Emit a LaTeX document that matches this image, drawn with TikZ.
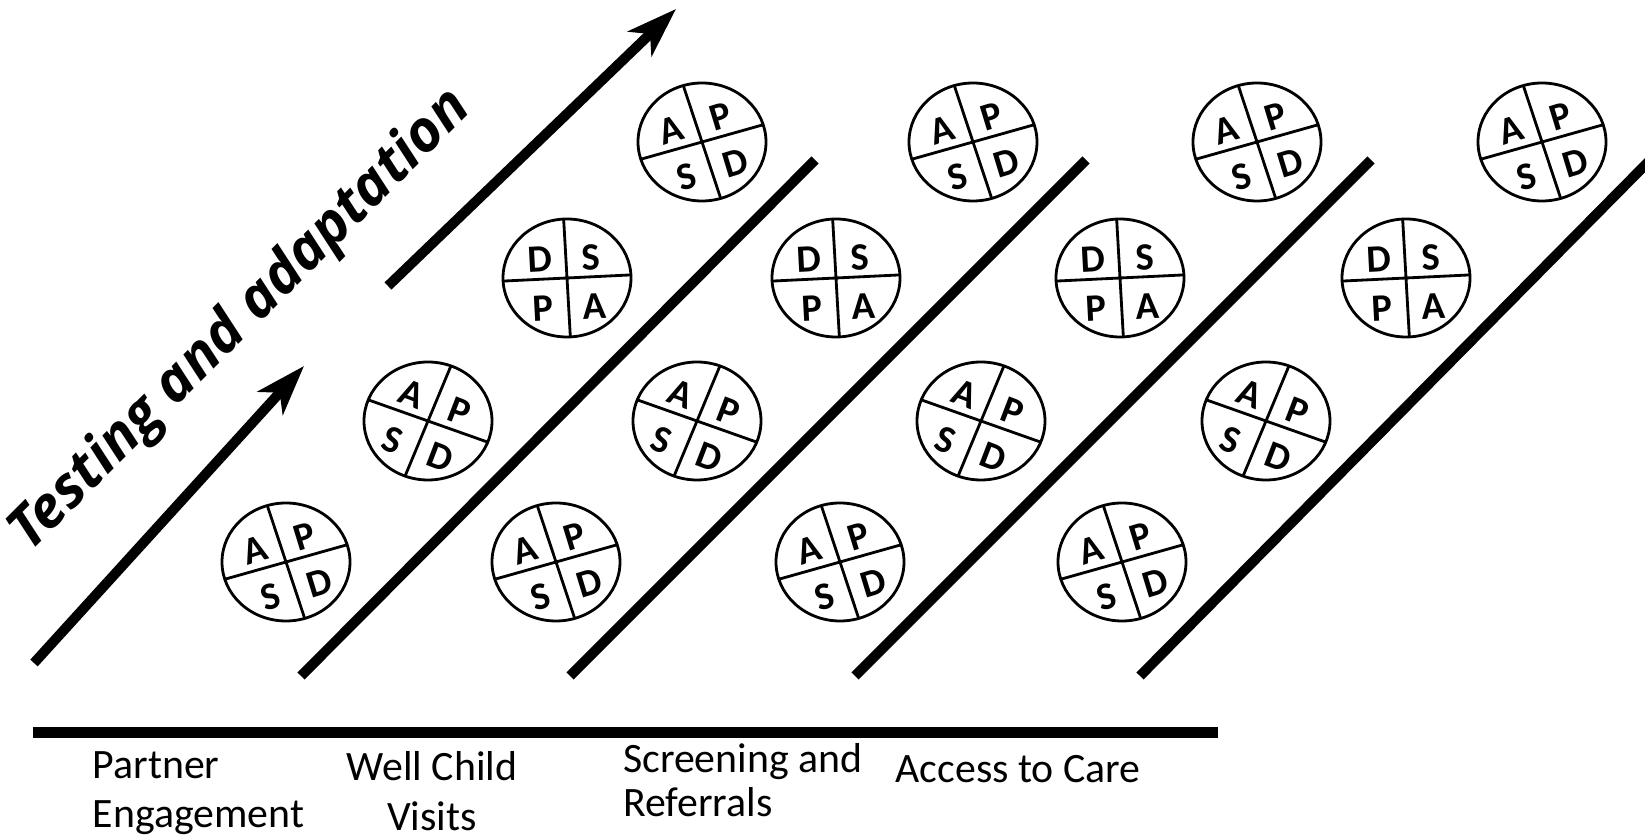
\documentclass[tikz,border=0pt]{standalone}
\usepackage{fontspec}
\setmainfont{Carlito}
\newfontfamily\titlefont{Open Sans}
\usetikzlibrary{arrows.meta}
\tikzset{
  bar/.style={line width=2.85pt},
  rise/.style={bar, -{Stealth[length=5mm, width=3.4mm, inset=1.4mm]}},
  rim/.style={line width=0.8pt},
  ring/.style={xscale=0.64, yscale=0.59},
  letter/.style={inner sep=0pt, font=\bfseries\fontsize{11}{13}\selectfont},
  stage/.style={inner sep=0pt, anchor=base west, align=left, font=\fontsize{11.9}{14.2}\selectfont},
  pics/pdsa/.style n args={5}{code={
    \draw[rim] (0,0) circle (1);
    \draw[rim] (#1:1) -- ({#1+180}:1) ({#1+90}:1) -- ({#1+270}:1);
    \path[rotate=#1] (-0.4,0.33) node[letter, rotate=#1] (-ul) {#2}
      (0.4,0.33) node[letter, rotate=#1] (-ur) {#3}
      (-0.4,-0.5) node[letter, rotate=#1] (-ll) {#4}
      (0.4,-0.5) node[letter, rotate=#1] (-lr) {#5};
  }},
}
\begin{document}
\begin{tikzpicture}
\useasboundingbox (0,0) rectangle (16.45,-8.38);
% arrows and dividers
\coordinate (a1) at (0.34,-6.63);
\coordinate (a2) at (3.04,-3.66);
\coordinate (a3) at (3.88,-2.86);
\coordinate (a4) at (6.76,-0.09);
\coordinate (d1) at (3.01,-6.76);
\coordinate (d2) at (8.15,-1.60);
\coordinate (d3) at (5.70,-6.76);
\coordinate (d4) at (10.86,-1.60);
\coordinate (d5) at (8.55,-6.76);
\coordinate (d6) at (13.71,-1.60);
\coordinate (d7) at (11.40,-6.76);
\coordinate (d8) at (16.60,-1.50);
\coordinate (h1) at (0.33,-7.325);
\coordinate (h2) at (12.18,-7.325);
\draw[rise] (a1) -- (a2);
\draw[rise] (a3) -- (a4);
\draw[bar] (d1) -- (d2);
\draw[bar] (d3) -- (d4);
\draw[bar] (d5) -- (d6);
\draw[bar] (d7) -- (d8);
\draw[bar] (h1) -- (h2);
\node[rotate=45, font=\titlefont\bfseries\itshape\fontsize{16.3}{19}\selectfont] (title) at (2.41,-3.21) {Testing and adaptation};
% cycles
\pic[ring] (c11) at (2.86,-5.62) {pdsa={17}{A}{P}{S}{D}};
\pic[ring] (c12) at (4.28,-4.21) {pdsa={-21}{A}{P}{S}{D}};
\pic[ring] (c13) at (5.67,-2.78) {pdsa={3}{D}{S}{P}{A}};
\pic[ring] (c14) at (7.02,-1.42) {pdsa={17}{A}{P}{S}{D}};
\pic[ring] (c21) at (5.56,-5.62) {pdsa={17}{A}{P}{S}{D}};
\pic[ring] (c22) at (6.97,-4.21) {pdsa={-21}{A}{P}{S}{D}};
\pic[ring] (c23) at (8.36,-2.78) {pdsa={3}{D}{S}{P}{A}};
\pic[ring] (c24) at (9.73,-1.42) {pdsa={17}{A}{P}{S}{D}};
\pic[ring] (c31) at (8.40,-5.62) {pdsa={17}{A}{P}{S}{D}};
\pic[ring] (c32) at (9.81,-4.21) {pdsa={-21}{A}{P}{S}{D}};
\pic[ring] (c33) at (11.20,-2.78) {pdsa={3}{D}{S}{P}{A}};
\pic[ring] (c34) at (12.57,-1.42) {pdsa={17}{A}{P}{S}{D}};
\pic[ring] (c41) at (11.22,-5.62) {pdsa={17}{A}{P}{S}{D}};
\pic[ring] (c42) at (12.66,-4.21) {pdsa={-21}{A}{P}{S}{D}};
\pic[ring] (c43) at (14.06,-2.78) {pdsa={3}{D}{S}{P}{A}};
\pic[ring] (c44) at (15.42,-1.42) {pdsa={17}{A}{P}{S}{D}};
% stages
\node[stage] (partner) at (0.92,-8.28) {Partner\\Engagement};
\node[stage, anchor=base, align=center] (wellchild) at (4.32,-8.30) {Well Child\\Visits};
\node[stage] (screening) at (6.225,-8.17) {Screening and\\[-1.4pt]Referrals};
\node[stage] (access) at (8.95,-7.83) {Access to Care};
\end{tikzpicture}
\end{document}
